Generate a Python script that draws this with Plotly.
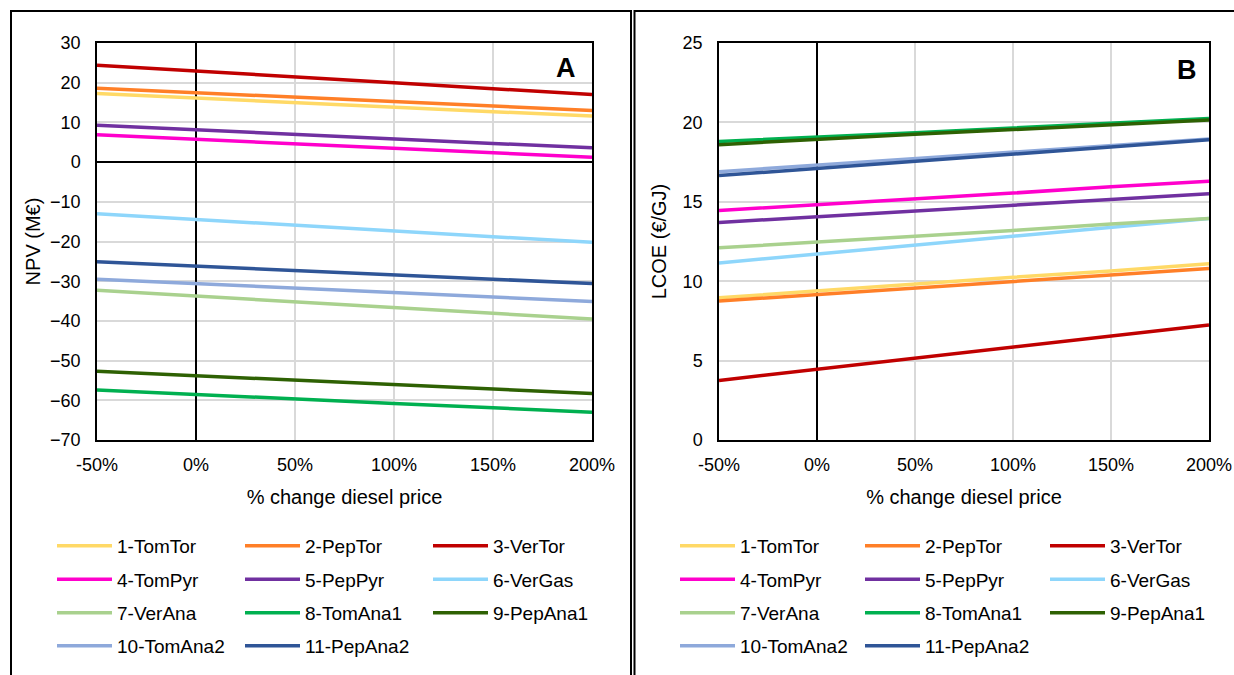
import plotly.graph_objects as go
from plotly.subplots import make_subplots

# ---------------- data ----------------
x_pct = [-50, 0, 50, 100, 150, 200]
x_ticktext = ["-50%", "0%", "50%", "100%", "150%", "200%"]

series_names = ["1-TomTor", "2-PepTor", "3-VerTor", "4-TomPyr", "5-PepPyr", "6-VerGas",
                "7-VerAna", "8-TomAna1", "9-PepAna1", "10-TomAna2", "11-PepAna2"]
series_colors = ["#FFD966", "#FF7F27", "#C00000", "#FF00CC", "#7030A0", "#8ED6FB",
                 "#A9D18E", "#00B050", "#2E6103", "#8EA9DB", "#2F5597"]

npv_tomtor = [17.3, 16.1, 14.9, 13.8, 12.7, 11.6]
npv_peptor = [18.6, 17.5, 16.4, 15.2, 14.1, 13.0]
npv_vertor = [24.4, 23.0, 21.5, 20.0, 18.5, 17.0]
npv_tompyr = [6.9, 5.8, 4.6, 3.5, 2.4, 1.2]
npv_peppyr = [9.3, 8.1, 7.0, 5.8, 4.7, 3.6]
npv_vergas = [-13.0, -14.5, -15.9, -17.4, -18.8, -20.2]
npv_verana = [-32.3, -33.8, -35.3, -36.7, -38.1, -39.5]
npv_tomana1 = [-57.4, -58.6, -59.7, -60.8, -61.9, -63.0]
npv_pepana1 = [-52.7, -53.8, -55.0, -56.1, -57.2, -58.3]
npv_tomana2 = [-29.5, -30.6, -31.7, -32.8, -34.0, -35.1]
npv_pepana2 = [-25.1, -26.2, -27.3, -28.4, -29.5, -30.6]

lcoe_tomtor = [8.95, 9.4, 9.8, 10.25, 10.65, 11.1]
lcoe_peptor = [8.75, 9.15, 9.55, 10.0, 10.4, 10.8]
lcoe_vertor = [3.75, 4.45, 5.15, 5.85, 6.55, 7.25]
lcoe_tompyr = [14.45, 14.8, 15.2, 15.55, 15.95, 16.3]
lcoe_peppyr = [13.7, 14.05, 14.4, 14.8, 15.15, 15.5]
lcoe_vergas = [11.15, 11.7, 12.25, 12.8, 13.4, 13.95]
lcoe_verana = [12.1, 12.45, 12.85, 13.2, 13.6, 13.95]
lcoe_tomana1 = [18.8, 19.05, 19.35, 19.65, 19.95, 20.25]
lcoe_pepana1 = [18.6, 18.95, 19.25, 19.55, 19.85, 20.15]
lcoe_tomana2 = [16.9, 17.3, 17.7, 18.1, 18.5, 18.95]
lcoe_pepana2 = [16.65, 17.1, 17.55, 18.0, 18.45, 18.9]

npv_values = [npv_tomtor, npv_peptor, npv_vertor, npv_tompyr, npv_peppyr, npv_vergas,
              npv_verana, npv_tomana1, npv_pepana1, npv_tomana2, npv_pepana2]
lcoe_values = [lcoe_tomtor, lcoe_peptor, lcoe_vertor, lcoe_tompyr, lcoe_peppyr, lcoe_vergas,
               lcoe_verana, lcoe_tomana1, lcoe_pepana1, lcoe_tomana2, lcoe_pepana2]

npv_ticks = [30, 20, 10, 0, -10, -20, -30, -40, -50, -60, -70]
lcoe_ticks = [25, 20, 15, 10, 5, 0]

FONT = "Liberation Sans, Arial, sans-serif"

W, H = 1234, 675
ML, MR, MT, MB = 97, 25, 43, 235
PW = W - ML - MR
PH = H - MT - MB

def px_x(px):
    return (px - ML) / PW

def px_y(py):
    return (H - MB - py) / PH

fig = make_subplots(rows=1, cols=2, horizontal_spacing=0.0)

# legend rows: 4 rows, 3 columns per panel
legend_rows_y = [546, 579.5, 613, 646]

for i, name in enumerate(series_names):
    row = i // 3
    last_col = (i % 3) == 2
    lg_left = "legend" if row == 0 else f"legend{row + 1}"
    lg_right = f"legend{row + 5}"
    extra = dict(legendwidth=90) if last_col else {}
    fig.add_trace(go.Scatter(x=x_pct, y=npv_values[i], mode="lines", name=name,
                             line=dict(color=series_colors[i], width=3.5),
                             legend=lg_left, hoverinfo="skip", **extra), row=1, col=1)
    fig.add_trace(go.Scatter(x=x_pct, y=lcoe_values[i], mode="lines", name=name,
                             line=dict(color=series_colors[i], width=3.5),
                             legend=lg_right, hoverinfo="skip", **extra), row=1, col=2)

xaxis_common = dict(
    range=[-50, 200], tickvals=x_pct, ticktext=x_ticktext,
    showgrid=True, gridcolor="#D9D9D9", gridwidth=1.5,
    zeroline=True, zerolinecolor="#000000", zerolinewidth=1.5,
    showline=True, mirror=True, linecolor="#000000", linewidth=1.5,
    ticks="", tickfont=dict(family=FONT, size=18, color="#000000"),
    ticklabelstandoff=8,
    title=dict(text="% change diesel price", font=dict(family=FONT, size=20, color="#000000"),
               standoff=16),
    fixedrange=True,
)
fig.update_xaxes(**xaxis_common)
fig.update_xaxes(domain=[0, px_x(592)], row=1, col=1)
fig.update_xaxes(domain=[px_x(719), 1], row=1, col=2)

yaxis_common = dict(
    showgrid=True, gridcolor="#D9D9D9", gridwidth=1.5,
    zeroline=True, zerolinecolor="#000000", zerolinewidth=1.5,
    showline=True, mirror=True, linecolor="#000000", linewidth=1.5,
    ticks="", tickfont=dict(family=FONT, size=18, color="#000000"),
    ticklabelstandoff=11, fixedrange=True,
)
fig.update_yaxes(**yaxis_common)
fig.update_yaxes(range=[-70, 30], tickvals=npv_ticks,
                 title=dict(text="NPV (M€)", font=dict(family=FONT, size=20, color="#000000"), standoff=4),
                 row=1, col=1)
fig.update_yaxes(range=[0, 25], tickvals=lcoe_ticks,
                 title=dict(text="LCOE (€/GJ)", font=dict(family=FONT, size=20, color="#000000"), standoff=11),
                 row=1, col=2)

# panel letters
fig.add_annotation(text="<b>A</b>", xref="x domain", yref="y domain", x=0.947, y=0.938,
                   xanchor="center", yanchor="middle",
                   showarrow=False, font=dict(family=FONT, size=27, color="#000000"))
fig.add_annotation(text="<b>B</b>", xref="x2 domain", yref="y2 domain", x=0.955, y=0.932,
                   xanchor="center", yanchor="middle",
                   showarrow=False, font=dict(family=FONT, size=27, color="#000000"))

# panel frames
fig.add_shape(type="rect", xref="paper", yref="paper",
              x0=px_x(11), x1=px_x(631), y0=px_y(720), y1=px_y(11),
              line=dict(color="#000000", width=2), fillcolor="rgba(0,0,0,0)", layer="below")
fig.add_shape(type="rect", xref="paper", yref="paper",
              x0=px_x(634.5), x1=px_x(1260), y0=px_y(720), y1=px_y(11),
              line=dict(color="#000000", width=2), fillcolor="rgba(0,0,0,0)", layer="below")

legend_style = dict(orientation="h", xref="container", yref="container",
                    xanchor="left", yanchor="middle", bgcolor="rgba(0,0,0,0)",
                    font=dict(family=FONT, size=19, color="#000000"),
                    itemwidth=55, entrywidthmode="pixels",
                    itemclick=False, itemdoubleclick=False)
legends = {}
for r in range(4):
    key_l = "legend" if r == 0 else f"legend{r + 1}"
    key_r = f"legend{r + 5}"
    legends[key_l] = dict(legend_style, entrywidth=118, x=52 / W, y=1 - legend_rows_y[r] / H)
    legends[key_r] = dict(legend_style, entrywidth=115, x=675 / W, y=1 - legend_rows_y[r] / H)

fig.update_layout(
    width=W, height=H, autosize=False,
    margin=dict(l=ML, r=MR, t=MT, b=MB, autoexpand=False),
    paper_bgcolor="#FFFFFF", plot_bgcolor="#FFFFFF",
    font=dict(family=FONT, size=18, color="#000000"),
    showlegend=True,
    **legends,
)

fig.write_html("out.html", include_plotlyjs=True,
               config={"displayModeBar": False, "responsive": False})
